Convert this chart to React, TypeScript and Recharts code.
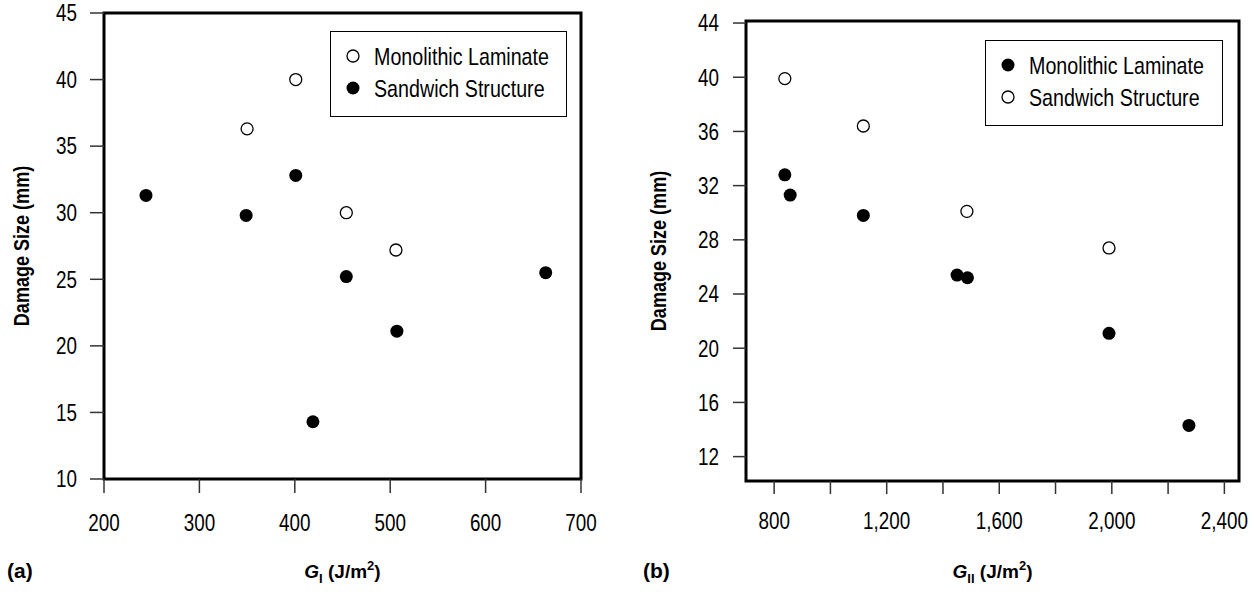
import { ScatterChart, Scatter, XAxis, YAxis, ReferenceArea, Legend } from "recharts";

const FONT = "'Liberation Sans', Arial, sans-serif";
// no narrow face installed: squeeze Liberation Sans horizontally instead
const NARROW = 0.82;

// (a) damage size vs G_I
const gIMono = [401, 350, 454, 506];
const sizeMonoA = [40.0, 36.3, 30.0, 27.2];
const gISand = [244, 349, 401, 454, 663, 507, 419];
const sizeSandA = [31.3, 29.8, 32.8, 25.2, 25.5, 21.1, 14.3];
const ticksXA = [200, 300, 400, 500, 600, 700];
const ticksYA = [10, 15, 20, 25, 30, 35, 40, 45];

// (b) damage size vs G_II
const gIIMono = [838, 857, 1117, 1450, 1487, 1990, 2274];
const sizeMonoB = [32.8, 31.3, 29.8, 25.4, 25.2, 21.1, 14.3];
const gIISand = [838, 1117, 1485, 1990];
const sizeSandB = [39.9, 36.4, 30.1, 27.4];
const ticksXB = [800, 1000, 1200, 1400, 1600, 1800, 2000, 2200, 2400];
const ticksYB = [12, 16, 20, 24, 28, 32, 36, 40, 44];

const zip = (xs: number[], ys: number[]) => xs.map((x, i) => ({ x, y: ys[i] }));

const Filled = (p: any) => <circle cx={p.cx} cy={p.cy} r={6.5} fill="#000" />;
const Open = (p: any) => <circle cx={p.cx} cy={p.cy} r={6} fill="#fff" stroke="#000" strokeWidth={1.3} />;

function Narrow({ x, y, size, anchor = "start", weight = "normal", dy, children }: any) {
  return (
    <text
      transform={`translate(${x} ${y}) scale(${NARROW} 1)`}
      textAnchor={anchor}
      fontSize={size}
      fontWeight={weight}
      fontFamily={FONT}
      fill="#000"
      dy={dy}
    >
      {children}
    </text>
  );
}

const XTick = ({ x, y, payload, fmt }: any) => (
  <Narrow x={x} y={y} size={23} anchor="middle" dy="0.71em">
    {fmt ? fmt(payload.value) : payload.value}
  </Narrow>
);
const YTick = ({ x, y, payload }: any) => (
  <Narrow x={x} y={y} size={23} anchor="end" dy="0.36em">
    {payload.value}
  </Narrow>
);

function LegendBox({ items, w, h }: { items: { name: string; open: boolean }[]; w: number; h: number }) {
  return (
    <svg width={w} height={h} style={{ display: "block" }}>
      <rect x={0.5} y={0.5} width={w - 1} height={h - 1} fill="#fff" stroke="#000" strokeWidth={1} />
      {items.map((it, i) => {
        const cy = 25 + i * 32;
        return (
          <g key={it.name}>
            {it.open ? (
              <circle cx={23} cy={cy} r={6} fill="#fff" stroke="#000" strokeWidth={1.3} />
            ) : (
              <circle cx={23} cy={cy} r={6.5} fill="#000" />
            )}
            <Narrow x={44} y={cy + 8.5} size={24}>
              {it.name}
            </Narrow>
          </g>
        );
      })}
    </svg>
  );
}

function YTitle({ x, viewBox }: any) {
  const cy = viewBox.y + viewBox.height / 2;
  return (
    <text
      transform={`translate(${x} ${cy}) rotate(-90) scale(${NARROW} 1)`}
      textAnchor="middle"
      fontSize={22}
      fontWeight="bold"
      fill="#000"
      fontFamily={FONT}
    >
      Damage Size (mm)
    </text>
  );
}

function XTitle({ viewBox, sub, tag, tagX }: any) {
  const cx = viewBox.x + viewBox.width / 2;
  const y = 578;
  return (
    <g fontFamily={FONT} fontWeight="bold" fill="#000">
      <text x={cx} y={y} textAnchor="middle" fontSize={19}>
        <tspan fontStyle="italic">G</tspan>
        <tspan fontSize={13} dy={5}>{sub}</tspan>
        <tspan dy={-5}> (J/m</tspan>
        <tspan fontSize={13} dy={-8}>2</tspan>
        <tspan dy={8}>)</tspan>
      </text>
      <text x={tagX} y={y} fontSize={21}>
        {tag}
      </text>
    </g>
  );
}

const tickLine = { stroke: "#333", strokeWidth: 1.5 };
const fmtB = (v: number) => (v % 400 === 0 ? v.toLocaleString("en-US") : "");

export default function App() {
  return (
    <div style={{ position: "absolute", left: 0, top: 0, width: 1256, height: 592, background: "#fff", fontFamily: FONT }}>
      <div style={{ position: "absolute", left: 0, top: 0 }}>
        <ScatterChart width={600} height={592} margin={{ top: 13, right: 19, bottom: 0, left: 0 }}>
          <XAxis
            type="number"
            dataKey="x"
            domain={[200, 700]}
            ticks={ticksXA}
            interval={0}
            height={113}
            tickSize={14}
            tickMargin={22}
            axisLine={false}
            tickLine={tickLine}
            tick={<XTick />}
            label={{ content: (p: any) => <XTitle {...p} sub="I" tag="(a)" tagX={7} /> }}
          />
          <YAxis
            type="number"
            dataKey="y"
            domain={[10, 45]}
            ticks={ticksYA}
            interval={0}
            width={104}
            tickSize={14}
            tickMargin={13}
            axisLine={false}
            tickLine={tickLine}
            tick={<YTick />}
            label={{ content: (p: any) => <YTitle {...p} x={28.5} /> }}
          />
          <ReferenceArea x1={200} x2={700} y1={10} y2={45} fill="none" stroke="#000" strokeWidth={3} />
          <Scatter name="Monolithic Laminate" data={zip(gIMono, sizeMonoA)} shape={Open} isAnimationActive={false} />
          <Scatter name="Sandwich Structure" data={zip(gISand, sizeSandA)} shape={Filled} isAnimationActive={false} />
          <Legend
            layout="vertical"
            align="center"
            verticalAlign="middle"
            wrapperStyle={{ left: 330, top: 31, width: 237, height: 86 }}
            content={() => (
              <LegendBox
                w={237}
                h={86}
                items={[
                  { name: "Monolithic Laminate", open: true },
                  { name: "Sandwich Structure", open: false },
                ]}
              />
            )}
          />
        </ScatterChart>
      </div>
      <div style={{ position: "absolute", left: 620, top: 0 }}>
        <ScatterChart width={636} height={592} margin={{ top: 21, right: 17, bottom: 0, left: 0 }}>
          <XAxis
            type="number"
            dataKey="x"
            domain={[700, 2452]}
            ticks={ticksXB}
            interval={0}
            height={111}
            tickSize={13}
            tickMargin={19}
            axisLine={false}
            tickLine={tickLine}
            tick={<XTick fmt={fmtB} />}
            label={{ content: (p: any) => <XTitle {...p} sub="II" tag="(b)" tagX={23} /> }}
          />
          <YAxis
            type="number"
            dataKey="y"
            domain={[10.2, 44.15]}
            ticks={ticksYB}
            interval={0}
            width={126}
            tickSize={13}
            tickMargin={14}
            axisLine={false}
            tickLine={tickLine}
            tick={<YTick />}
            label={{ content: (p: any) => <YTitle {...p} x={46} /> }}
          />
          <ReferenceArea x1={700} x2={2452} y1={10.2} y2={44.15} fill="none" stroke="#000" strokeWidth={3} />
          <Scatter name="Monolithic Laminate" data={zip(gIIMono, sizeMonoB)} shape={Filled} isAnimationActive={false} />
          <Scatter name="Sandwich Structure" data={zip(gIISand, sizeSandB)} shape={Open} isAnimationActive={false} />
          <Legend
            layout="vertical"
            align="center"
            verticalAlign="middle"
            wrapperStyle={{ left: 365, top: 40, width: 238, height: 86 }}
            content={() => (
              <LegendBox
                w={238}
                h={86}
                items={[
                  { name: "Monolithic Laminate", open: false },
                  { name: "Sandwich Structure", open: true },
                ]}
              />
            )}
          />
        </ScatterChart>
      </div>
    </div>
  );
}
